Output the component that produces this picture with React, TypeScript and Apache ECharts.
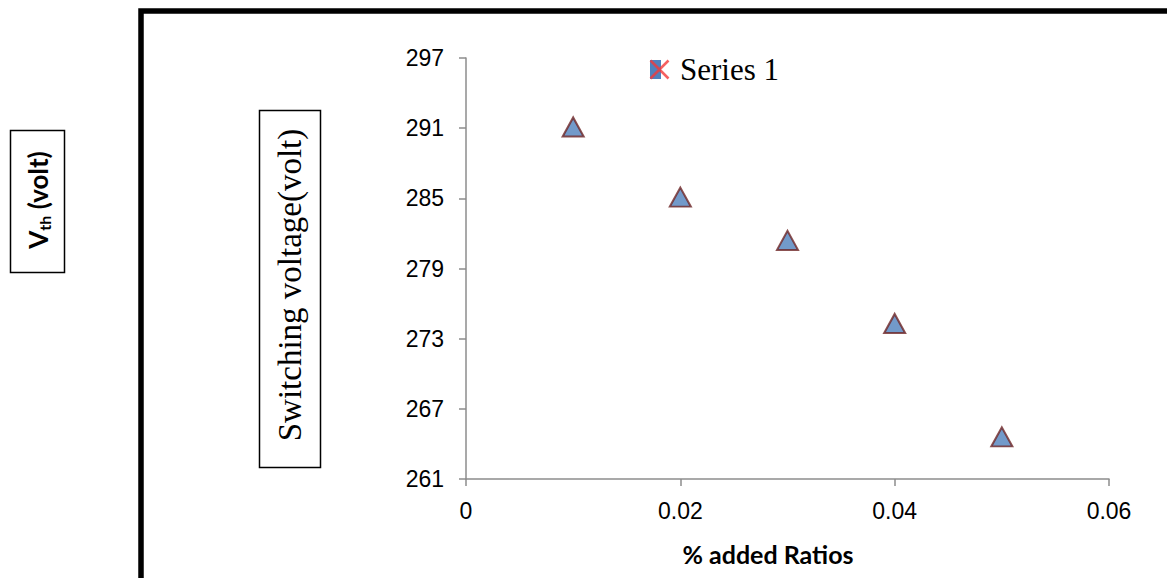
import { useEffect, useRef } from "react";
import * as echarts from "echarts";

// % added ratio (x) and measured switching voltage in volts (y)
const ratios = [0.01, 0.02, 0.03, 0.04, 0.05];
const switchingVoltage = [291.1, 285.1, 281.4, 274.3, 264.6];

// axis ticks
const yTicks = [261, 267, 273, 279, 285, 291, 297];
const xTicks = [0, 0.02, 0.04, 0.06];

const seriesName = "Series 1";
const xTitle = "% added Ratios";
const yTitle = "Switching voltage(volt)";

export default function App() {
  const ref = useRef<HTMLDivElement>(null);

  useEffect(() => {
    if (!ref.current) return;
    const chart = echarts.init(ref.current, undefined, { renderer: "svg" });
    const axisColor = "#8c8c8c";

    chart.setOption({
      animation: false,
      backgroundColor: "#ffffff",
      grid: { left: 466, top: 58, right: 58, bottom: 99, containLabel: false },
      legend: {
        show: true,
        left: 648,
        top: 54,
        padding: 0,
        itemWidth: 19,
        itemHeight: 18,
        data: [
          {
            name: seriesName,
            icon: "path://M0,0L10,10M10,0L0,10",
            itemStyle: { color: "none", borderColor: "#f23a3a", borderWidth: 2.5 },
          },
        ],
        textStyle: {
          fontFamily: "Liberation Serif",
          fontSize: 31,
          color: "#000",
          padding: [0, 0, 0, 6],
        },
      },
      xAxis: {
        type: "value",
        min: xTicks[0],
        max: xTicks[xTicks.length - 1],
        interval: 0.02,
        splitLine: { show: false },
        axisLine: { show: true, lineStyle: { color: axisColor, width: 1.5 } },
        axisTick: { show: true, length: 7, lineStyle: { color: axisColor, width: 1.5 } },
        axisLabel: {
          margin: 20,
          fontFamily: "Liberation Sans",
          fontSize: 23,
          color: "#000",
          formatter: (v: number) => String(+v.toFixed(2)),
        },
      },
      yAxis: {
        type: "value",
        min: yTicks[0],
        max: yTicks[yTicks.length - 1],
        splitLine: { show: false },
        axisLine: { show: true, lineStyle: { color: axisColor, width: 1.5 } },
        axisTick: {
          show: true,
          length: 7,
          customValues: yTicks,
          lineStyle: { color: axisColor, width: 1.5 },
        },
        axisLabel: {
          margin: 22,
          customValues: yTicks,
          fontFamily: "Liberation Sans",
          fontSize: 23,
          color: "#000",
        },
      },
      series: [
        {
          name: seriesName,
          type: "scatter",
          symbol: "triangle",
          symbolSize: [21, 19],
          itemStyle: { color: "#4f81bd", borderColor: "#6e2626", borderWidth: 2 },
          data: ratios.map((r, i) => [r, switchingVoltage[i]]),
        },
      ],
      graphic: [
        // outer frame
        {
          type: "rect",
          shape: { x: 141, y: 11, width: 1200, height: 800 },
          style: { fill: "none", stroke: "#000", lineWidth: 5.5 },
          silent: true,
        },
        // blue swatch behind the legend marker
        {
          type: "rect",
          z: 0,
          shape: { x: 650, y: 60, width: 11, height: 19 },
          style: { fill: "#4f81bd" },
        },
        // Vth box
        {
          type: "rect",
          shape: { x: 10.5, y: 130.5, width: 54, height: 142 },
          style: { fill: "#fff", stroke: "#000", lineWidth: 1.5 },
        },
        {
          type: "text",
          x: 38,
          y: 200,
          rotation: Math.PI / 2,
          style: {
            text: "{v|V}{s|th}{v| (volt)}",
            align: "center",
            verticalAlign: "middle",
            rich: {
              v: { fontFamily: "Lato", fontWeight: "bold", fontSize: 26, lineHeight: 28, fill: "#000" },
              s: { fontFamily: "Lato", fontWeight: "bold", fontSize: 16, lineHeight: 17, verticalAlign: "bottom", fill: "#000" },
            },
          },
        },
        // y-axis title box
        {
          type: "rect",
          shape: { x: 259.5, y: 110.5, width: 61, height: 357 },
          style: { fill: "#fff", stroke: "#000", lineWidth: 1.5 },
        },
        {
          type: "text",
          x: 290,
          y: 285,
          rotation: Math.PI / 2,
          style: {
            text: yTitle,
            align: "center",
            verticalAlign: "middle",
            fontFamily: "Liberation Serif",
            fontSize: 33,
            fill: "#000",
          },
        },
        // x-axis title
        {
          type: "text",
          x: 768,
          y: 554,
          style: {
            text: xTitle,
            align: "center",
            verticalAlign: "middle",
            fontFamily: "Lato",
            fontWeight: "bold",
            fontSize: 25,
            fill: "#000",
          },
        },
      ],
    });

    return () => chart.dispose();
  }, []);

  return (
    <div
      ref={ref}
      style={{ position: "fixed", left: 0, top: 0, width: 1167, height: 578, background: "#fff" }}
    />
  );
}
